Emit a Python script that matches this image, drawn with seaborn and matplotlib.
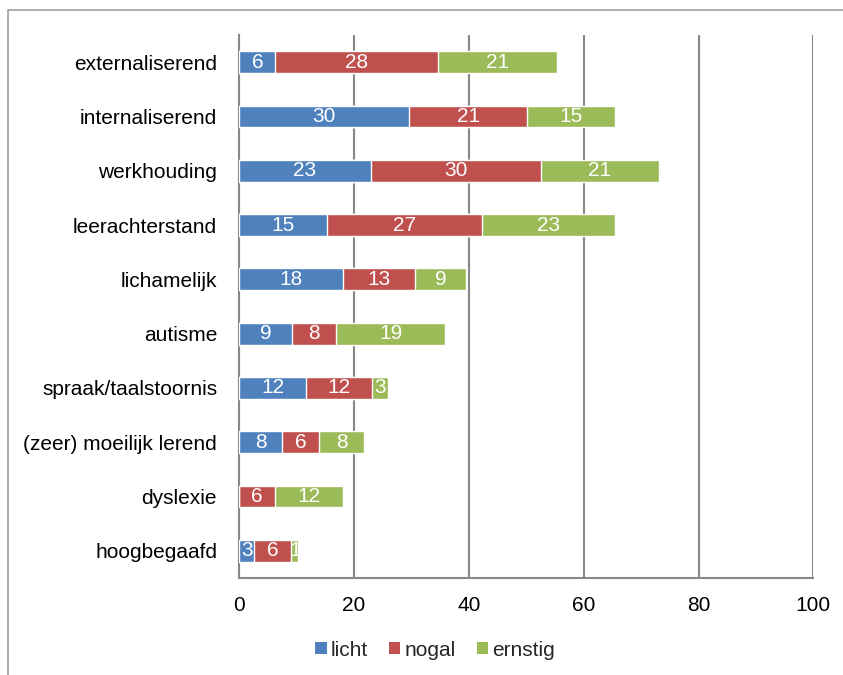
import matplotlib
matplotlib.use("Agg")
import matplotlib.pyplot as plt
import seaborn as sns
import numpy as np
import pandas as pd
from matplotlib.patches import Patch, Rectangle

# Problem areas and the share (%) per severity level
categories = ["externaliserend", "internaliserend", "werkhouding", "leerachterstand",
              "lichamelijk", "autisme", "spraak/taalstoornis", "(zeer) moeilijk lerend",
              "dyslexie", "hoogbegaafd"]
licht = [6.3, 29.6, 22.9, 15.2, 18.0, 9.1, 11.6, 7.5, 0.0, 2.6]
nogal = [28.4, 20.6, 29.6, 27.1, 12.6, 7.7, 11.6, 6.4, 6.2, 6.4]
ernstig = [20.6, 15.3, 20.7, 23.2, 8.9, 19.1, 2.7, 7.8, 11.8, 1.3]
series_names = ["licht", "nogal", "ernstig"]
x_ticks = [0, 20, 40, 60, 80, 100]

colors = {"licht": "#4F81BD", "nogal": "#C0504D", "ernstig": "#9BBB59"}
gray = "#888888"

sns.set_style("white")
plt.rcParams["font.family"] = ["Liberation Sans", "DejaVu Sans"]

df = pd.DataFrame({"categorie": categories, "licht": licht, "nogal": nogal, "ernstig": ernstig})
df["c1"] = df["licht"]
df["c2"] = df["licht"] + df["nogal"]
df["c3"] = df["c2"] + df["ernstig"]

W, H = 843, 675
fig = plt.figure(figsize=(W / 100, H / 100), dpi=100)
x0, x1, y_top, y_bot = 239.3, 813.3, 35, 578
ax = fig.add_axes([x0 / W, 1 - y_bot / H, (x1 - x0) / W, (y_bot - y_top) / H])

# Stacked bars: draw cumulative totals from longest to shortest
for col, name in [("c3", "ernstig"), ("c2", "nogal"), ("c1", "licht")]:
    sns.barplot(data=df, x=col, y="categorie", orient="h", color=colors[name],
                saturation=1, width=0.4, ax=ax, zorder=3)

# Value labels centred in each segment
fs = 15
for i, row in df.iterrows():
    starts = [0, row["c1"], row["c2"]]
    vals = [row["licht"], row["nogal"], row["ernstig"]]
    for s, v in zip(starts, vals):
        if v > 0:
            ax.text(s + v / 2, i, f"{round(v)}", ha="center", va="center",
                    color="white", fontsize=fs, zorder=4)

ax.set_xlim(0, 100)
ax.set_ylim(len(categories) - 0.5, -0.5)
ax.set_xlabel("")
ax.set_ylabel("")
ax.set_xticks(x_ticks)
ax.set_xticklabels([str(t) for t in x_ticks])
ax.xaxis.grid(True, color=gray, linewidth=1.5, zorder=0)
ax.yaxis.grid(False)
ax.set_axisbelow(True)

ax.set_yticks(np.arange(-0.5, len(categories), 1), minor=True)
ax.tick_params(axis="y", which="major", length=0, pad=16, labelsize=fs, labelcolor="black")
ax.tick_params(axis="y", which="minor", length=7, width=1.5, color=gray, direction="out")
ax.tick_params(axis="x", which="major", length=7, width=1.5, color=gray, direction="out",
               pad=6, labelsize=fs, labelcolor="black")

for side in ["top", "right"]:
    ax.spines[side].set_visible(False)
for side in ["left", "bottom"]:
    ax.spines[side].set_color(gray)
    ax.spines[side].set_linewidth(1.5)

# Legend below the axis
handles = [Patch(facecolor=colors[n], edgecolor="none", label=n) for n in series_names]
fig.legend(handles=handles, loc="center", bbox_to_anchor=(435 / W, 1 - 650 / H), ncol=3,
           frameon=False, fontsize=fs, handlelength=0.55, handleheight=0.55,
           handletextpad=0.2, columnspacing=1.0)

# Chart-area border
fig.patches.append(Rectangle((8 / W, -0.1), 1.2, 1.1 - 10 / H, transform=fig.transFigure,
                             fill=False, edgecolor="#a0a0a0", linewidth=1.2))

fig.savefig("out.png", dpi=100)
